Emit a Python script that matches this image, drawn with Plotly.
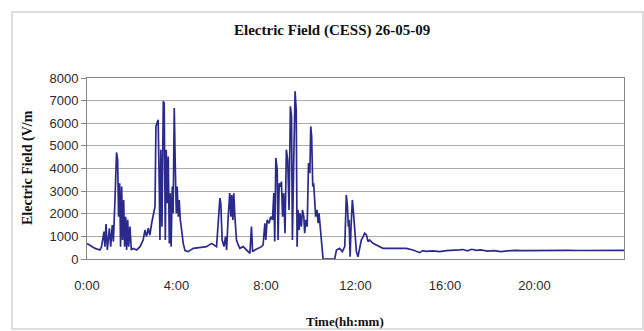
import plotly.graph_objects as go

# Electric field record, 26-05-09 (time in hours, field in V/m)
hours = [
    0.00, 0.13, 0.36, 0.58, 0.65, 0.76, 0.80, 0.85, 0.91, 1.00, 1.06, 1.13, 1.18, 1.25,
    1.32, 1.37, 1.41, 1.46, 1.50, 1.55, 1.59, 1.64, 1.68, 1.73, 1.77, 1.82, 1.86, 1.92,
    1.98, 2.07, 2.22, 2.37, 2.51, 2.59, 2.66, 2.74, 2.81, 2.89, 2.96, 3.04, 3.08, 3.14,
    3.18, 3.23, 3.26, 3.30, 3.35, 3.41, 3.45, 3.50, 3.54, 3.59, 3.63, 3.68, 3.72, 3.76,
    3.81, 3.85, 3.90, 3.94, 3.99, 4.03, 4.08, 4.12, 4.17, 4.23, 4.30, 4.38, 4.52, 4.75,
    5.04, 5.34, 5.57, 5.67, 5.79, 5.94, 5.98, 6.04, 6.12, 6.19, 6.24, 6.31, 6.38, 6.43,
    6.47, 6.52, 6.56, 6.61, 6.68, 6.76, 6.83, 6.98, 7.13, 7.28, 7.35, 7.40, 7.50, 7.65,
    7.80, 7.87, 7.95, 7.99, 8.05, 8.14, 8.21, 8.29, 8.35, 8.39, 8.44, 8.50, 8.54, 8.59,
    8.65, 8.69, 8.74, 8.79, 8.85, 8.91, 8.97, 9.03, 9.09, 9.14, 9.18, 9.24, 9.30, 9.35,
    9.39, 9.43, 9.48, 9.52, 9.58, 9.63, 9.69, 9.73, 9.78, 9.84, 9.90, 9.96, 10.00, 10.04,
    10.09, 10.13, 10.18, 10.22, 10.28, 10.33, 10.37, 10.42, 10.48, 10.55, 11.07, 11.15,
    11.29, 11.41, 11.52, 11.59, 11.64, 11.68, 11.71, 11.76, 11.80, 11.86, 11.90, 11.96,
    12.04, 12.11, 12.19, 12.26, 12.34, 12.41, 12.49, 12.56, 12.63, 12.78, 12.93, 13.08,
    13.23, 13.38, 13.68, 13.97, 14.27, 14.57, 14.72, 14.87, 15.01, 15.16, 15.46, 15.76,
    16.06, 16.35, 16.65, 16.80, 17.00, 17.20, 17.40, 17.60, 17.90, 18.20, 18.50, 18.80,
    19.10, 19.50, 20.00, 20.50, 21.00, 21.50, 22.00, 22.50, 23.00, 23.50, 24.00,
]
field = [
    690, 620, 470, 400, 546, 1210, 546, 1550, 400, 1360, 546, 1500, 770, 2610,
    4710, 4380, 1870, 3350, 546, 3200, 840, 2610, 546, 1870, 400, 1730, 546, 1430,
    400, 470, 400, 546, 840, 1280, 990, 1360, 1060, 1580, 1870, 2320, 5860, 6010,
    6150, 3200, 840, 4830, 1430, 6970, 6890, 840, 4830, 2460, 4530, 690, 2910, 546,
    3200, 2020, 6670, 4380, 2020, 3200, 1870, 2610, 1730, 1280, 690, 370, 325, 470,
    500, 546, 690, 620, 546, 2690, 2460, 840, 546, 990, 400, 1870, 2910, 1870,
    2830, 1730, 2910, 1870, 840, 620, 470, 546, 400, 250, 1430, 325, 400, 470,
    546, 620, 1580, 840, 1730, 1580, 1870, 1730, 2910, 770, 4460, 3940, 840, 3350,
    3200, 3420, 1870, 2910, 1140, 4830, 4380, 2170, 6750, 6300, 840, 4380, 7410, 6600,
    546, 2170, 1280, 2020, 1430, 2170, 1870, 1140, 1730, 1430, 4240, 3790, 5860, 5420,
    3200, 3350, 2610, 1870, 2170, 1580, 2020, 1430, 546, 0, 0, 400,
    470, 325, 546, 2830, 2320, 1430, 1730, 100, 1430, 2610, 2170, 1140,
    325, 100, 546, 840, 990, 1140, 1060, 770, 840, 690, 620, 546,
    470, 470, 460, 470, 470, 400, 325, 280, 370, 340, 355, 325,
    370, 370, 400, 420, 360, 430, 380, 400, 350, 370, 330, 360,
    380, 370, 380, 375, 370, 380, 375, 370, 380, 375, 380,
]

tick_hours = [0, 4, 8, 12, 16, 20]
tick_labels = ["0:00", "4:00", "8:00", "12:00", "16:00", "20:00"]

W, H = 644, 331
L, R, T, B = 87, 20, 78, 72
pw, ph = W - L - R, H - T - B


def px_x(p):
    return (p - L) / pw


def px_y(p):
    return (H - B - p) / ph


serif = "Liberation Serif, Times New Roman, serif"
sans = "Liberation Sans, Arial, sans-serif"

fig = go.Figure(
    go.Scatter(
        x=hours, y=field, mode="lines",
        line=dict(color="#2b2a8c", width=1.7),
        hoverinfo="skip",
    )
)

fig.update_layout(
    width=W, height=H,
    margin=dict(l=L, r=R, t=T, b=B),
    paper_bgcolor="white", plot_bgcolor="white",
    showlegend=False,
    font=dict(family=sans, size=13, color="#222222"),
)

fig.update_xaxes(
    range=[0, 24], tickmode="array", tickvals=tick_hours, ticktext=tick_labels,
    showgrid=False, zeroline=False,
    showline=True, linecolor="#8c8282", linewidth=1, mirror=True,
    ticks="", ticklabelstandoff=14,
    tickfont=dict(family=sans, size=13, color="#2a2a2a"),
)
fig.update_yaxes(
    range=[0, 8000], dtick=1000, tickformat="d",
    showgrid=True, gridcolor="#aaaaaa", gridwidth=1, zeroline=False,
    showline=True, linecolor="#8c8282", linewidth=1, mirror=True,
    ticks="outside", ticklen=5, tickcolor="#8c8282",
    tickfont=dict(family=sans, size=13, color="#2a2a2a"),
)

annotations = [
    dict(text="<b>Electric Field (CESS) 26-05-09</b>", x=px_x(332), y=px_y(30),
         font=dict(family=serif, size=15, color="#111111")),
    dict(text="<b>Electric Field (V/m</b>", x=px_x(28), y=px_y(168), textangle=-90,
         font=dict(family=serif, size=14, color="#111111")),
    dict(text="<b>Time(hh:mm)</b>", x=px_x(345), y=px_y(321),
         font=dict(family=serif, size=13, color="#111111")),
]
for a in annotations:
    fig.add_annotation(xref="paper", yref="paper", showarrow=False,
                       xanchor="center", yanchor="middle", **a)

# Light outer frame around the chart area
fig.add_shape(type="rect", xref="paper", yref="paper",
              x0=px_x(12), x1=px_x(643), y0=px_y(329), y1=px_y(12),
              line=dict(color="#d2d2d2", width=1.5), layer="below")

fig.write_html("out.html")
